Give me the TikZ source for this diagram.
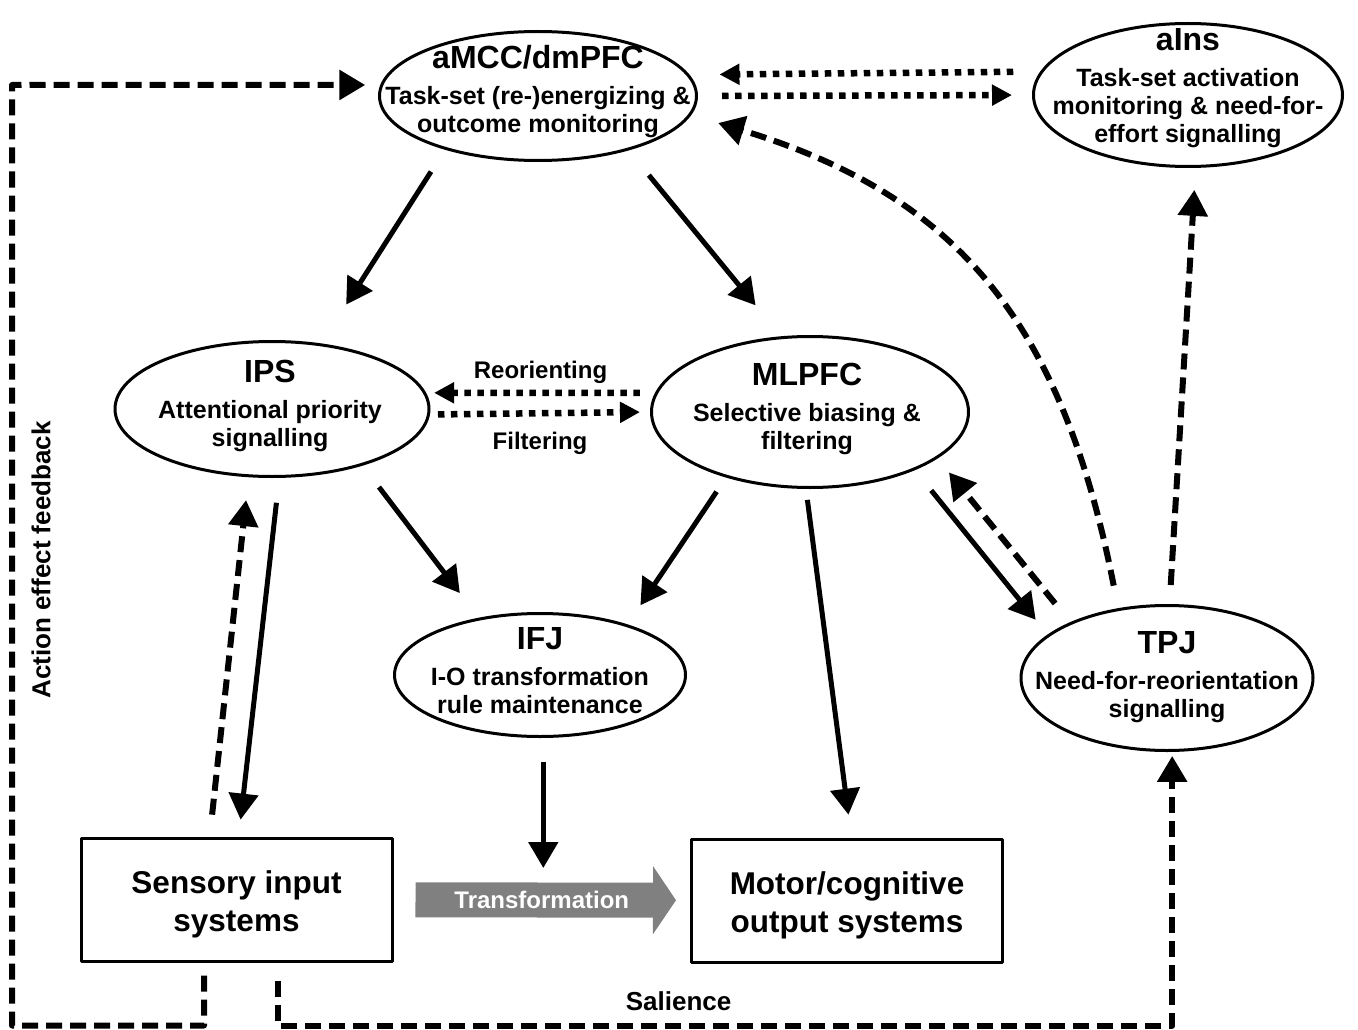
\documentclass[tikz,border=0pt]{standalone}
\usepackage{fontspec}
\setmainfont{Liberation Sans}
\usetikzlibrary{arrows.meta,shapes.geometric}
\newcommand{\areahead}[1]{{\fontsize{32}{32}\selectfont #1}\\[8pt]}

\begin{document}
\begin{tikzpicture}[x=1pt, y=-1pt, font=\bfseries, line join=round,
	area/.style={draw, ellipse, line width=3pt, inner sep=0pt},
	areatxt/.style={align=center, inner sep=0pt, font=\bfseries\fontsize{25}{28}\selectfont},
	sys/.style={draw, rectangle, line width=3pt, inner sep=0pt, minimum width=311pt, minimum height=123pt},
	systxt/.style={align=center, inner sep=0pt, font=\bfseries\fontsize{31.5}{38}\selectfont},
	lbl/.style={inner sep=0pt, font=\bfseries\fontsize{24}{28}\selectfont},
	fwd/.style={line width=5pt, -{Triangle[length=26pt,width=29pt]}},
	back/.style={fwd, line width=6pt, dash pattern=on 16pt off 8pt},
	dots/.style={line width=6.5pt, dash pattern=on 6.5pt off 6.5pt, -{Triangle[length=20pt,width=20pt]}},
	]
	\useasboundingbox (0,0) rectangle (1358,1030);
	\node[area, minimum width=317pt, minimum height=129pt] (amcc) at (538,96) {};
	\node[area, minimum width=309pt, minimum height=143pt] (ains) at (1188,95) {};
	\node[area, minimum width=314pt, minimum height=135pt] (ips) at (272,409) {};
	\node[area, minimum width=317pt, minimum height=151pt] (mlpfc) at (810,412) {};
	\node[area, minimum width=291pt, minimum height=123pt] (ifj) at (540,675) {};
	\node[area, minimum width=292pt, minimum height=145pt] (tpj) at (1167,678) {};
	\node[areatxt, yshift=4.5pt] (amcctxt) at (amcc) {\areahead{aMCC/dmPFC}Task-set (re-)energizing \&\\outcome monitoring};
	\node[areatxt, yshift=6.7pt] (ainstxt) at (ains) {\areahead{aIns}Task-set activation\\monitoring \& need-for-\\effort signalling};
	\node[areatxt, yshift=2.7pt] (ipstxt) at ([xshift=-2pt]ips) {\areahead{IPS}Attentional priority\\signalling};
	\node[areatxt, yshift=2.7pt] (mlpfctxt) at ([xshift=-3pt]mlpfc) {\areahead{MLPFC}Selective biasing \&\\filtering};
	\node[areatxt, yshift=4.2pt] (ifjtxt) at (ifj) {\areahead{IFJ}I-O transformation\\rule maintenance};
	\node[areatxt, yshift=0.7pt] (tpjtxt) at (tpj) {\areahead{TPJ}Need-for-reorientation\\signalling};
	\node[sys] (sensory) at (236.5,899.5) {};
	\node[sys] (motor) at (847,900.5) {};
	\node[systxt, yshift=-5pt] (sensorytxt) at (sensory) {Sensory input\\systems};
	\node[systxt, yshift=-5pt] (motortxt) at (motor) {Motor/cognitive\\output systems};
	\node[lbl, font=\bfseries\fontsize{26}{30}\selectfont, rotate=90] (fbtxt) at (41,560) {Action effect feedback};

	\draw[line width=35pt, black!50, -{Triangle[length=23pt,width=67pt]}, shorten <=22pt, shorten >=14pt] (sensory) -- (motor) node[midway, text=white, lbl] (trans) {Transformation};

	\draw[fwd, shorten <=26pt, shorten >=46pt] (amcc.210) -- (ips.53);
	\draw[fwd, shorten <=32pt, shorten >=40pt] (amcc.329) -- (mlpfc.111);
	\draw[fwd, shorten <=27pt, shorten >=31pt] (ips.328) -- (ifj.137);
	\draw[fwd, shorten <=17pt, shorten >=23pt] (mlpfc.218) -- (ifj.30);
	\draw[fwd, shorten <=25pt, shorten >=17pt] (ips.276) -- (sensory.88.5);
	\draw[back, shorten <=22pt, shorten >=23pt] (sensory.113) -- (ips.251);
	\draw[fwd, shorten <=11pt, shorten >=23pt] (mlpfc.267.5) -- (motor.86.4);
	\draw[fwd, shorten <=24pt, shorten >=32pt] (ifj.273) -- (ifj.273 |- trans);
	\draw[fwd, shorten <=26pt, shorten >=19pt] (mlpfc.331) -- (tpj.160);
	\draw[back, shorten <=24pt, shorten >=18pt] (tpj.150) -- (mlpfc.340);
	\draw[back, shorten <=19pt, shorten >=22pt] (tpj.88.6) -- (ains.276.6);
	\draw[back, shorten <=23pt, shorten >=28pt] (tpj.125) .. controls (1060,311) and (948,193) .. (amcc.353.5);

	\draw[dots, shorten <=27pt, shorten >=30pt] (ains.171.6) -- (amcc.8.7);
	\draw[dots, shorten <=24pt, shorten >=20pt] (amcc.east) -- (ains.west);
	\draw[dots, shorten <=15pt, shorten >=8pt] (mlpfc.173) -- node[lbl, above=6pt] (reotxt) {Reorienting} (ips.6);
	\draw[dots, shorten <=8pt, shorten >=10pt] (ips.358.5) -- node[lbl, below=16pt] (filtxt) {Filtering} (mlpfc.180);

	\draw[back, shorten <=13pt, shorten >=15pt] ([xshift=-32.5pt]sensory.south) -- ++(0,63) -| (12,85) -- (amcc.176);
	\draw[back, shorten <=18pt, shorten >=4pt] ([xshift=41.5pt]sensory.south) -- ++(0,63) -| node[pos=.224, lbl, font=\bfseries\fontsize{26}{30}\selectfont, above=12pt] (saltxt) {Salience} (tpj.274);
\end{tikzpicture}
\end{document}
